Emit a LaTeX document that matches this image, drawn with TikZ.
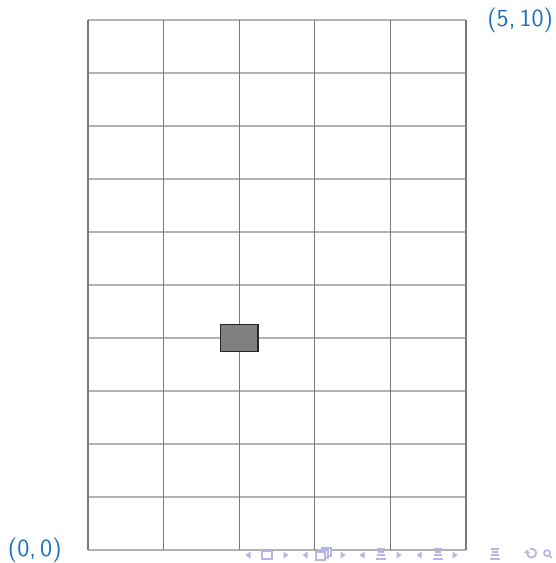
\documentclass[tikz,border=0pt]{standalone}
\usepackage{tikz}
\usetikzlibrary{positioning}
\definecolor{lblblue}{RGB}{28,112,186}
\definecolor{navcol}{RGB}{182,182,230}

\begin{document}
\begin{tikzpicture}[
  x=1.512cm, y=1.06cm,
  vline/.style={draw=black!52, line width=0.6pt},
  hline/.style={draw=black!30, line width=0.8pt},
  lbl/.style={text=lblblue, font=\fontsize{14}{16}\selectfont\sffamily,
              inner sep=0pt},
  marker/.style={draw=black!85, fill=black!50, line width=0.8pt,
                 minimum width=0.756cm, minimum height=0.53cm, inner sep=0pt},
  navline/.style={draw=navcol, line width=1pt}
]
\useasboundingbox (-1.76cm,-0.26cm) rectangle (9.34cm,11cm);

% grid
\foreach \j in {0,...,10} \draw[hline] (0,\j) -- (5,\j);
\foreach \i in {0,...,5} \draw[vline] (\i,0) -- (\i,10);

\node[marker] (blk) at (2,4) {};

\coordinate (org) at (0,0);
\coordinate (tr) at (5,10);
\node[lbl, left=0.52cm of org] (lorg) {(0,\,0)};
\node[lbl, right=0.42cm of tr] (ltr) {(5,\,10)};

% navigation symbols
\begin{scope}[shift={(-1.76cm,11cm)}, x=0.02cm, y=-0.02cm]
  \foreach \x in {248,305,362,419}
    \fill[navcol] (\x-2.5,555) -- (\x+2.5,551.5) -- (\x+2.5,558.5) -- cycle;
  \foreach \x in {286,343,399,455}
    \fill[navcol] (\x+2.5,555) -- (\x-2.5,551.5) -- (\x-2.5,558.5) -- cycle;
  \draw[navline] (262,551) rectangle (272,559);
  \draw[navline, fill=white] (322,548) rectangle (331,556);
  \draw[navline, fill=white] (319,550) rectangle (328,558);
  \draw[navline, fill=white] (316,552) rectangle (325,560);
  \foreach \x in {381,438,495} {
    \draw[navline] (\x-4,549) -- (\x+4,549);
    \draw[navline] (\x-3,552) -- (\x+3,552);
    \draw[navline] (\x-4,555) -- (\x+4,555);
    \draw[navline] (\x-5,559) -- (\x+5,559);
  }
  \draw[navline] (527,553) arc (180:-110:4.5);
  \fill[navcol] (524,553) -- (530,553) -- (527,549.5) -- cycle;
  \draw[navline] (547,553) circle (3);
  \draw[navline] (549.2,555.2) -- (552,558);
\end{scope}
\end{tikzpicture}
\end{document}
